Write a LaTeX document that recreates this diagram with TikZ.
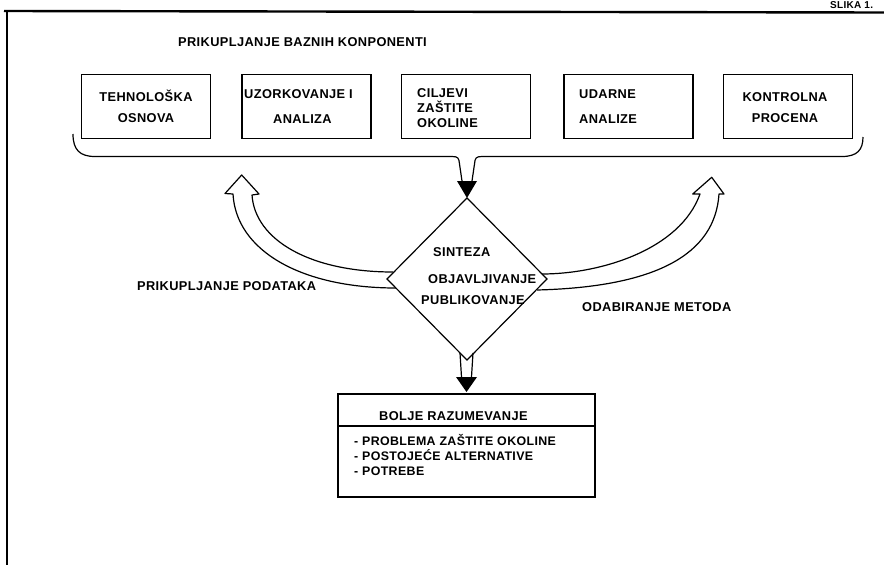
\documentclass[tikz,border=0pt]{standalone}
\usepackage{fontspec}
\setmainfont{Liberation Sans}[LetterSpace=3]
\usetikzlibrary{shapes.geometric}
\tikzset{
  topbox/.style={draw, line width=1.3pt, minimum width=129pt, minimum height=64pt, inner sep=0pt, outer sep=0pt},
  txt/.style={inner sep=0pt, anchor=base west, font=\bfseries\fontsize{12.8}{14}\selectfont},
  ctxt/.style={txt, anchor=base},
  listtxt/.style={txt, font=\bfseries\fontsize{12.4}{14}\selectfont},
  outl/.style={line width=1.2pt, line join=round},
}
\begin{document}
\begin{tikzpicture}[x=1pt, y=-1pt]
\useasboundingbox (0,0) rectangle (884,565);
\clip (0,0) rectangle (884,565);
% frame
\draw[line width=2.4pt] (4,11) -- (884,12.5);
\draw[line width=1.4pt] (7,11) -- (7,565);
\node[txt, font=\bfseries\fontsize{10}{12}\selectfont] (slika) at (830,8.3) {SLIKA 1.};
% title
\node[txt] (title) at (178,46.7) {PRIKUPLJANJE BAZNIH KONPONENTI};
% top boxes
\node[topbox] (b1) at (146,106.5) {};
\node[topbox] (b2) at (306.5,106.5) {};
\node[topbox] (b3) at (466,106.5) {};
\node[topbox] (b4) at (628.5,106.5) {};
\node[topbox] (b5) at (788,106.5) {};
\node[ctxt] (t1a) at (146,101.6) {TEHNOLOŠKA};
\node[ctxt] (t1b) at (146,122.6) {OSNOVA};
\node[txt] (t2a) at (244,98.5) {UZORKOVANJE I};
\node[txt] (t2b) at (273,123.5) {ANALIZA};
\node[txt] (t3a) at (417,97.5) {CILJEVI};
\node[txt] (t3b) at (417,112.5) {ZAŠTITE};
\node[txt] (t3c) at (417,127.5) {OKOLINE};
\node[txt] (t4a) at (579,98.5) {UDARNE};
\node[txt] (t4b) at (579,123.5) {ANALIZE};
\node[ctxt] (t5a) at (785,101.6) {KONTROLNA};
\node[ctxt] (t5b) at (785,122.6) {PROCENA};
% diamond
\node[draw, diamond, minimum width=160pt, minimum height=162pt, inner sep=0pt, outer sep=0pt, line width=1.2pt] (dia) at (467,279) {};
\node[txt] (s1) at (433,256.3) {SINTEZA};
\node[txt] (s2) at (428,283.9) {OBJAVLJIVANJE};
\node[txt] (s3) at (421,304.6) {PUBLIKOVANJE};
% brace into diamond
\coordinate (brL) at (73,134);
\coordinate (brR) at (863,137);
\draw[outl] (brL) .. controls (73,150) and (80,156.5) .. (95,156.5) -- (452,156.5)
  .. controls (458,156.5) and (459,158) .. (459.5,164) -- (462,181);
\draw[outl] (472,181) -- (474.5,164) .. controls (475,158) and (476,156.5) .. (482,156.5)
  -- (842,156.5) .. controls (857,156.5) and (863,150) .. (brR);
\fill (457,181) -- (477,181) -- (dia.north) -- cycle;
% left hollow arrow
\draw[outl] (393,272) .. controls (310,272) and (255,240) .. (252,195) -- (259,194) -- (241.7,175)
  -- (225,193.5) -- (233,194) .. controls (236,250) and (300,288) .. (396,288);
% right hollow arrow
\draw[outl] (542,274) .. controls (600,274) and (680,250) .. (700,194) -- (692.7,194) -- (711.7,177.3)
  -- (724,194) -- (719,194) .. controls (715,255) and (655,287) .. (537,290);
\node[txt] (lab1) at (137,290.6) {PRIKUPLJANJE PODATAKA};
\node[txt] (lab2) at (582,311.3) {ODABIRANJE METODA};
% bottom arrow
\draw[outl] (460,353) -- (461.5,377);
\draw[outl] (473,353) -- (471.5,377);
\node[draw, line width=1.3pt, minimum width=257pt, minimum height=103pt, inner sep=0pt, outer sep=0pt] (res) at (466.5,445.5) {};
\fill (456,377) -- (477,377) -- (466.5,392) -- cycle;
\draw[line width=1.3pt] (res.west |- 0,426) -- (res.east |- 0,426);
\node[txt] (rh) at (379,420.6) {BOLJE RAZUMEVANJE};
\node[listtxt] (r1) at (354,445.6) {- PROBLEMA ZAŠTITE OKOLINE};
\node[listtxt] (r2) at (354,460.4) {- POSTOJEĆE ALTERNATIVE};
\node[listtxt] (r3) at (354,475) {- POTREBE};
\end{tikzpicture}
\end{document}
